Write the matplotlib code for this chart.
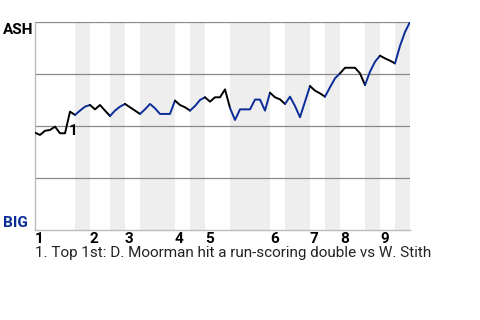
import matplotlib
matplotlib.use("Agg")
import matplotlib.pyplot as plt

plt.rcParams['font.family'] = ['Roboto', 'DejaVu Sans']

# ASH win probability (%) after each plate appearance
wp = [46.8, 45.7, 47.7, 48.1, 49.7, 46.5, 46.5, 56.9, 55.3, 57.4,
      59.3, 60.1, 58.0, 60.1, 57.4, 54.8, 57.4, 59.3, 60.6, 59.0,
      57.4, 55.8, 58.0, 60.6, 58.5, 55.8, 55.8, 55.8, 62.2, 60.1,
      59.0, 57.4, 59.6, 62.5, 63.8, 61.7, 63.8, 63.8, 67.6, 58.7,
      52.9, 58.0, 58.0, 58.0, 62.7, 62.7, 57.4, 66.0, 63.8, 62.8,
      60.6, 64.1, 59.6, 54.2, 61.7, 69.2, 67.0, 65.7, 64.1, 68.6,
      72.9, 75.3, 78.0, 78.0, 78.0, 75.3, 69.7, 76.1, 80.9, 83.8,
      82.5, 81.4, 80.1, 88.5, 95.2, 100.0]

# plate appearance index where each half inning ends
half_ends = [0, 8, 11, 15, 18, 21, 28, 31, 34, 39, 47, 50, 55, 58, 61, 66, 69, 72, 75]
innings = ['1', '2', '3', '4', '5', '6', '7', '8', '9']
away, home = 'ASH', 'BIG'
blue = '#0a2c99'

note_idx = 7
note_label = '1'
note_text = '1. Top 1st: D. Moorman hit a run-scoring double vs W. Stith'

fig = plt.figure(figsize=(4.8, 3.2), dpi=100)
ax = fig.add_axes([35/480, 90/320, 375/480, 208/320])

x = list(range(len(wp)))
for h in range(len(half_ends) - 1):
    a, b = half_ends[h], half_ends[h + 1]
    bottom_half = (h % 2 == 1)
    if bottom_half:
        ax.axvspan(a, b, color='#eeeeee', lw=0, zorder=0)
    ax.plot(x[a:b + 1], wp[a:b + 1], color=blue if bottom_half else 'black',
            lw=1.4, zorder=3, solid_capstyle='round')

for g in [25, 50, 75, 100]:
    ax.axhline(g, color='#888888', lw=0.9, zorder=1)

ax.set_xlim(0, len(wp) - 1)
ax.set_ylim(0, 100)
ax.set_xticks([])
ax.set_yticks([])
for s in ['top', 'right']:
    ax.spines[s].set_visible(False)
for s in ['left', 'bottom']:
    ax.spines[s].set_color('#bbbbbb')
    ax.spines[s].set_linewidth(1)

# inning numbers under the axis
for k, lab in enumerate(innings):
    ax.text(half_ends[2 * k], -13/208, lab, transform=ax.get_xaxis_transform(),
            ha='left', va='baseline', fontsize=11, fontweight='bold')

ax.annotate(note_label, (note_idx, wp[note_idx]), xytext=(-1, -9),
            textcoords='offset points', ha='left', va='top',
            fontsize=11, fontweight='bold', zorder=4)

fig.text(3/480, 1 - 34/320, away, fontsize=11, fontweight='bold',
         color='black', ha='left', va='baseline')
fig.text(3/480, 1 - 227/320, home, fontsize=11, fontweight='bold',
         color=blue, ha='left', va='baseline')
fig.text(35/480, 1 - 257/320, note_text, fontsize=11, color='#222222',
         ha='left', va='baseline')

fig.savefig('out.png', dpi=100)
